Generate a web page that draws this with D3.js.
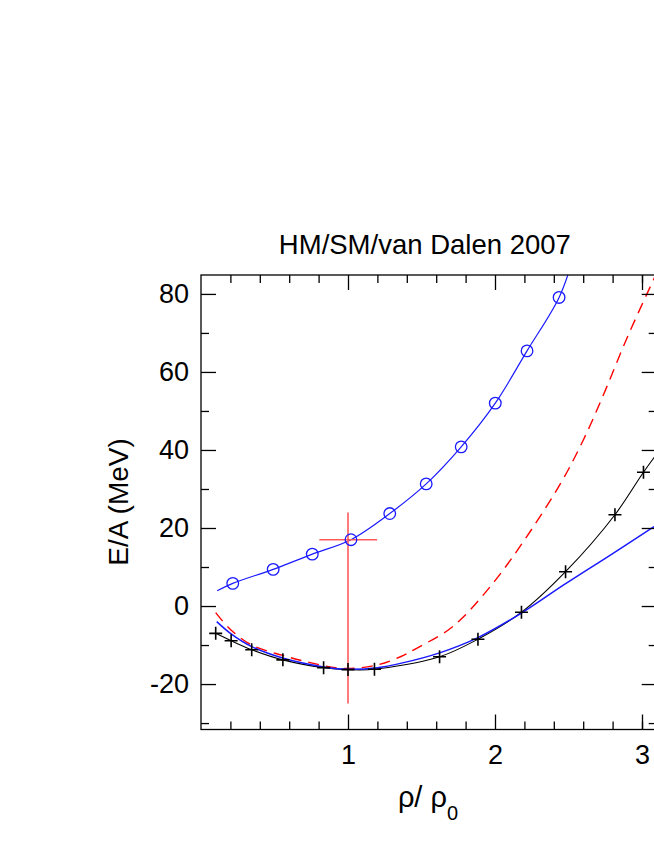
<!DOCTYPE html>
<html>
<head>
<meta charset="utf-8">
<script src="https://cdn.jsdelivr.net/npm/d3@7"></script>
<style>
  body { margin: 0; background: #fff; }
  svg { display: block; font-family: "Liberation Sans", Arial, sans-serif; }
</style>
</head>
<body>
<script>
// E/A vs density

// blue circles (with a thin blue curve through them)
var circX = [0.216, 0.491, 0.757, 1.02, 1.284, 1.532, 1.77, 2.002, 2.218, 2.436];
var circY = [5.8, 9.4, 13.3, 17.0, 23.7, 31.3, 40.8, 52.0, 65.4, 79.1];
var circLineX = [0.11, 0.216, 0.491, 0.757, 1.02, 1.284, 1.532, 1.77, 2.002, 2.218, 2.436, 2.53];
var circLineY = [3.9, 5.8, 9.4, 13.3, 17.0, 23.7, 31.3, 40.8, 52.0, 65.4, 79.1, 89.0];

// black crosses + black curve
var crossX = [0.1, 0.205, 0.345, 0.557, 0.834, 1.0, 1.18, 1.623, 1.884, 2.18, 2.48, 2.816, 3.01];
var crossY = [-7.0, -8.9, -11.2, -13.8, -15.8, -16.3, -16.2, -13.0, -8.5, -1.6, 8.8, 23.4, 34.3];
var blackX = [0.1, 0.205, 0.345, 0.557, 0.834, 1.0, 1.18, 1.623, 1.884, 2.18, 2.48, 2.816, 3.01, 3.12];
var blackY = [-7.0, -8.9, -11.2, -13.8, -15.8, -16.3, -16.2, -13.0, -8.5, -1.6, 8.8, 23.4, 34.3, 40.0];

// red dashed curve
var redX = [0.1, 0.2, 0.345, 0.55, 0.743, 0.97, 1.2, 1.357, 1.464, 1.68, 1.793, 2.0, 2.2, 2.452, 2.6, 2.725, 2.907, 3.12];
var redY = [-1.7, -6.0, -10.0, -12.6, -14.5, -16.0, -15.1, -13.0, -10.9, -6.2, -2.5, 6.5, 16.9, 31.8, 42.5, 53.0, 69.5, 87.0];

// plain blue curve
var blueX = [0.107, 0.2, 0.345, 0.561, 0.834, 1.0, 1.2, 1.357, 1.623, 1.884, 2.18, 2.475, 2.79, 3.12];
var blueY = [-4.0, -7.0, -10.4, -13.4, -15.6, -16.2, -15.8, -14.7, -12.0, -8.1, -1.8, 5.6, 13.2, 21.3];

// red error cross (saturation point)
var errX = [1.0], errY = [17.0];
var errXLo = [0.805], errXHi = [1.198];
var errYLo = [-25.0], errYHi = [24.0];

// ticks
var xMajor = [1, 2, 3];
var xMinor = [0.2, 0.4, 0.6, 0.8, 1.2, 1.4, 1.6, 1.8, 2.2, 2.4, 2.6, 2.8, 3.0];
var yMajor = [-20, 0, 20, 40, 60, 80];
var yMinor = [-30, -10, 10, 30, 50, 70];

var width = 654;
var height = 846;

var pLeft = 201, pRight = 656.7, pTop = 275, pBottom = 729.5;

var svg = d3.select('body').append('svg')
    .attr('width', width)
    .attr('height', height);

var x = d3.scaleLinear().domain([0, 3.1]).range([pLeft, pRight]);
var y = d3.scaleLinear().domain([-31.65, 84.85]).range([pBottom, pTop]);

svg.append('clipPath').attr('id', 'plotclip')
    .append('rect')
    .attr('x', pLeft).attr('y', pTop)
    .attr('width', pRight - pLeft).attr('height', pBottom - pTop);

var plot = svg.append('g').attr('clip-path', 'url(#plotclip)');

function pts(xs, ys) {
    return xs.map(function(d, i) { return [d, ys[i]]; });
}

var line = d3.line()
    .x(function(d) { return x(d[0]); })
    .y(function(d) { return y(d[1]); })
    .curve(d3.curveCatmullRom);

// red dashed
plot.append('path')
    .attr('d', line(pts(redX, redY)))
    .attr('fill', 'none')
    .attr('stroke', '#ff0000')
    .attr('stroke-width', 1.4)
    .attr('stroke-dasharray', '11,7');

// black curve
plot.append('path')
    .attr('d', line(pts(blackX, blackY)))
    .attr('fill', 'none')
    .attr('stroke', '#000')
    .attr('stroke-width', 1.1);

// plain blue
plot.append('path')
    .attr('d', line(pts(blueX, blueY)))
    .attr('fill', 'none')
    .attr('stroke', '#1a1aff')
    .attr('stroke-width', 1.5);

// blue curve through circles
plot.append('path')
    .attr('d', line(pts(circLineX, circLineY)))
    .attr('fill', 'none')
    .attr('stroke', '#1a1aff')
    .attr('stroke-width', 1.2);

// error cross
var errs = errX.map(function(d, i) {
    return {x: d, y: errY[i], x0: errXLo[i], x1: errXHi[i], y0: errYLo[i], y1: errYHi[i]};
});
var eg = plot.selectAll('.err').data(errs).enter().append('g')
    .attr('stroke', '#ff5a5a')
    .attr('stroke-width', 1.6);
eg.append('line')
    .attr('x1', function(d) { return x(d.x); })
    .attr('x2', function(d) { return x(d.x); })
    .attr('y1', function(d) { return y(d.y0); })
    .attr('y2', function(d) { return y(d.y1); });
eg.append('line')
    .attr('x1', function(d) { return x(d.x0); })
    .attr('x2', function(d) { return x(d.x1); })
    .attr('y1', function(d) { return y(d.y); })
    .attr('y2', function(d) { return y(d.y); });

// circles
plot.selectAll('.circ').data(pts(circX, circY)).enter().append('circle')
    .attr('cx', function(d) { return x(d[0]); })
    .attr('cy', function(d) { return y(d[1]); })
    .attr('r', 5.8)
    .attr('fill', 'none')
    .attr('stroke', '#1a1aff')
    .attr('stroke-width', 1.3);

// crosses
var cs = 6.5;
var cg = plot.selectAll('.cross').data(pts(crossX, crossY)).enter().append('g')
    .attr('transform', function(d) { return 'translate(' + x(d[0]) + ',' + y(d[1]) + ')'; })
    .attr('stroke', '#000')
    .attr('stroke-width', 1.6);
cg.append('line').attr('x1', -cs).attr('x2', cs).attr('y1', 0).attr('y2', 0);
cg.append('line').attr('x1', 0).attr('x2', 0).attr('y1', -cs).attr('y2', cs);

// box
svg.append('rect')
    .attr('x', pLeft).attr('y', pTop)
    .attr('width', pRight - pLeft).attr('height', pBottom - pTop)
    .attr('fill', 'none')
    .attr('stroke', '#000')
    .attr('stroke-width', 1.3);

function styleAxis(g) {
    g.select('.domain').remove();
    g.selectAll('.tick line').attr('stroke', '#000').attr('stroke-width', 1.3);
    g.selectAll('.tick text').attr('fill', '#000').style('font-size', '27px')
        .style('font-family', '"Liberation Sans", Arial, sans-serif');
}

var fmt = function(d) { return String(d); };

// bottom
svg.append('g').attr('transform', 'translate(0,' + pBottom + ')')
    .call(d3.axisBottom(x).tickValues(xMajor).tickSize(-15).tickPadding(15).tickFormat(fmt))
    .call(styleAxis);
svg.append('g').attr('transform', 'translate(0,' + pBottom + ')')
    .call(d3.axisBottom(x).tickValues(xMinor).tickSize(-8).tickFormat(''))
    .call(styleAxis);
// top
svg.append('g').attr('transform', 'translate(0,' + pTop + ')')
    .call(d3.axisTop(x).tickValues(xMajor).tickSize(-15).tickFormat(''))
    .call(styleAxis);
svg.append('g').attr('transform', 'translate(0,' + pTop + ')')
    .call(d3.axisTop(x).tickValues(xMinor).tickSize(-8).tickFormat(''))
    .call(styleAxis);
// left
svg.append('g').attr('transform', 'translate(' + pLeft + ',0)')
    .call(d3.axisLeft(y).tickValues(yMajor).tickSize(-15).tickPadding(12).tickFormat(fmt))
    .call(styleAxis);
svg.append('g').attr('transform', 'translate(' + pLeft + ',0)')
    .call(d3.axisLeft(y).tickValues(yMinor).tickSize(-8).tickFormat(''))
    .call(styleAxis);
// right
svg.append('g').attr('transform', 'translate(' + pRight + ',0)')
    .call(d3.axisRight(y).tickValues(yMajor).tickSize(-15).tickFormat(''))
    .call(styleAxis);
svg.append('g').attr('transform', 'translate(' + pRight + ',0)')
    .call(d3.axisRight(y).tickValues(yMinor).tickSize(-8).tickFormat(''))
    .call(styleAxis);

// title
svg.append('text')
    .attr('x', (pLeft + pRight) / 2 - 4)
    .attr('y', 254)
    .attr('text-anchor', 'middle')
    .style('font-size', '27.5px')
    .text('HM/SM/van Dalen 2007');

// y label
svg.append('text')
    .attr('transform', 'translate(128.3,502) rotate(-90)')
    .attr('text-anchor', 'middle')
    .style('font-size', '28px')
    .text('E/A (MeV)');

// x label
var xl = svg.append('text')
    .attr('x', 428)
    .attr('y', 807)
    .attr('text-anchor', 'middle')
    .style('font-size', '29px');
xl.append('tspan').text('ρ/ ρ');
xl.append('tspan').attr('dy', 12.5).style('font-size', '20px').text('0');
</script>
</body>
</html>
